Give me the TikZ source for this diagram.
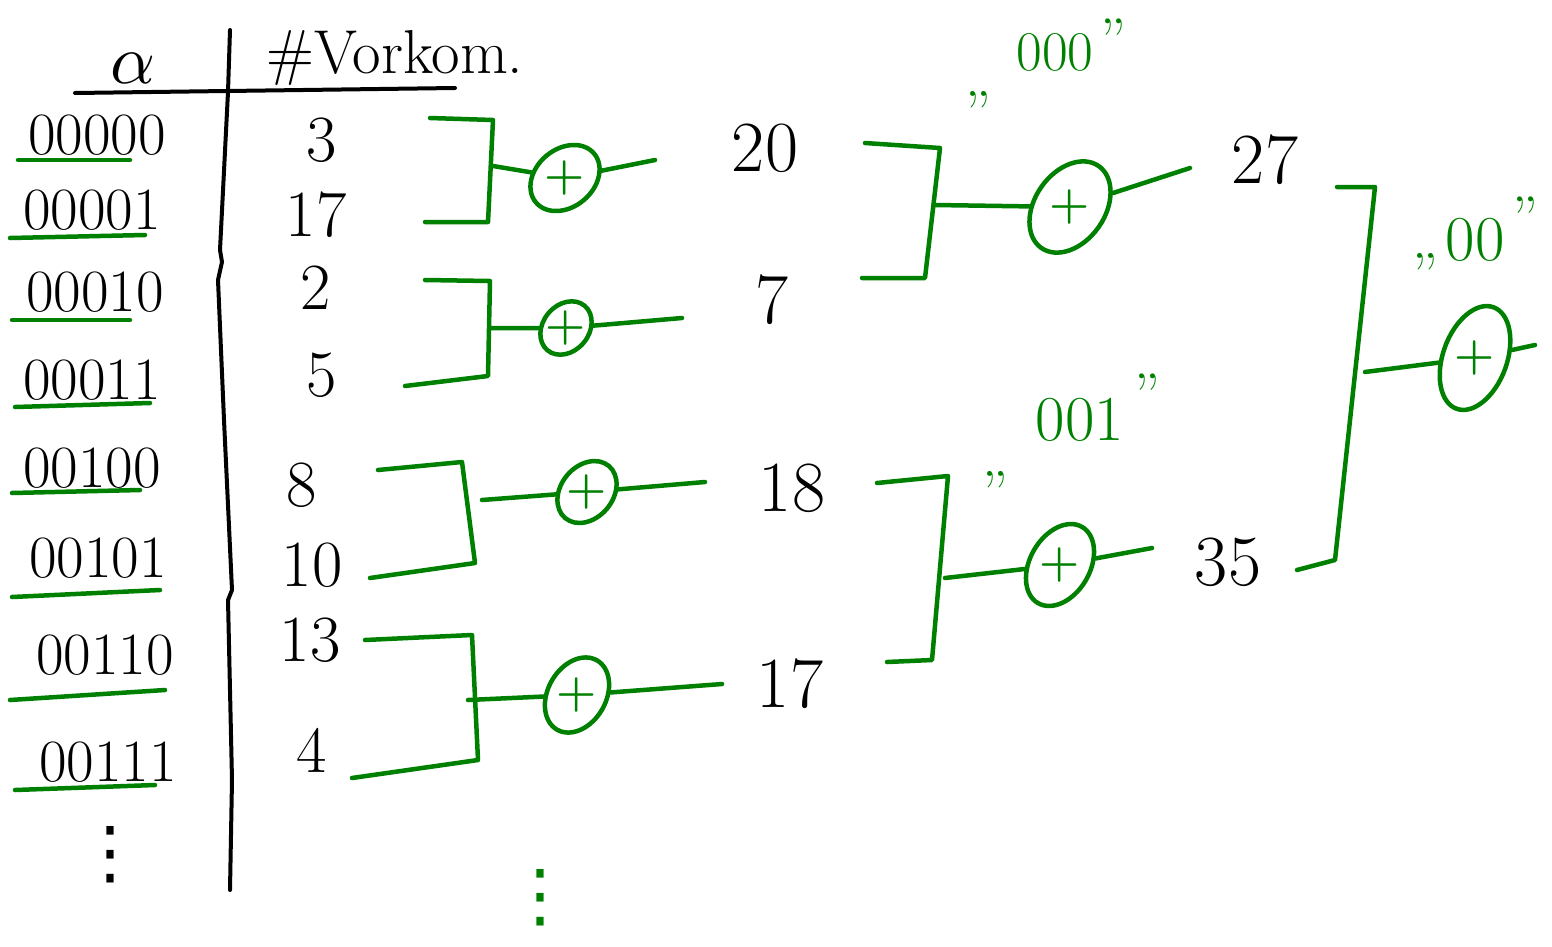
\documentclass[tikz,border=0pt]{standalone}
\usepackage{fontspec}
\newfontfamily\dvfont{DejaVu Sans}
\usetikzlibrary{shapes.geometric}
\definecolor{hwgreen}{RGB}{0,128,0}
\begin{document}
\begin{tikzpicture}[x=1pt,y=-1pt,
 g/.style={draw=hwgreen,line width=4.5pt,line cap=round,line join=round},
 k/.style={draw=black,line width=4pt,line cap=round,line join=round},
 bin/.style={font=\fontsize{60}{64}\selectfont,inner sep=0pt},
 cnt/.style={font=\fontsize{66}{70}\selectfont,inner sep=0pt},
 sum/.style={font=\fontsize{72}{74}\selectfont,inner sep=0pt},
 plus/.style={ellipse,draw=hwgreen,line width=4.5pt,inner sep=0pt},
 pl/.style={text=hwgreen,font=\bfseries\fontsize{46}{46}\selectfont,inner sep=0pt},
 lbl/.style={text=hwgreen,font=\fontsize{56}{60}\selectfont,inner sep=0pt},
 qt/.style={text=hwgreen,font=\fontsize{60}{60}\selectfont,inner sep=0pt},
 dots/.style={font=\dvfont\fontsize{70}{70}\selectfont,inner sep=0pt},
]
\useasboundingbox (0,0) rectangle (1552,946);

% header
\node[inner sep=0pt] (alpha) at (133,68) {\scalebox{7}{$\alpha$}};
\node[font=\fontsize{62}{70}\selectfont,inner sep=0pt] (head) at (395,58) {\#Vorkom.};
\draw[k] (75,93) -- (455,88);
\draw[k] (230,30) -- (228,92) -- (220,250) -- (222,262) -- (218,280) -- (224,420) -- (232,590) -- (228,600) -- (232,780) -- (230,890);

% binary labels
\node[bin] (b1) at (97,135) {00000};
\node[bin] (b2) at (92,210) {00001};
\node[bin] (b3) at (95,292) {00010};
\node[bin] (b4) at (92,380) {00011};
\node[bin] (b5) at (92,468) {00100};
\node[bin] (b6) at (98,558) {00101};
\node[bin] (b7) at (105,655) {00110};
\node[bin] (b8) at (108,762) {00111};
\draw[g] (18,160) -- (130,160);
\draw[g] (10,238) -- (145,235);
\draw[g] (12,320) -- (130,320);
\draw[g] (15,407) -- (150,403);
\draw[g] (12,493) -- (140,490);
\draw[g] (12,597) -- (160,590);
\draw[g] (10,700) -- (165,690);
\draw[g] (15,790) -- (155,785);
\node[dots] (vd) at (110,855) {⋮};

% counts
\node[cnt] (c1) at (322,140) {3};
\node[cnt] (c2) at (316,215) {17};
\node[cnt] (c3) at (316,288) {2};
\node[cnt] (c4) at (322,375) {5};
\node[cnt] (c5) at (302,485) {8};
\node[cnt] (c6) at (312,565) {10};
\node[cnt] (c7) at (310,640) {13};
\node[cnt] (c8) at (312,750) {4};

% level 1
\node[plus,minimum width=76pt,minimum height=58pt,rotate=40] (p1) at (565,178) {};
\node[plus,minimum width=58pt,minimum height=46pt,rotate=50] (p2) at (566,328) {};
\node[plus,minimum width=68pt,minimum height=52pt,rotate=50] (p3) at (587,492) {};
\node[plus,minimum width=80pt,minimum height=58pt,rotate=60] (p4) at (577,695) {};
\node[pl] (p1t) at (p1) {+};
\node[pl] (p2t) at (p2) {+};
\node[pl] (p3t) at (p3) {+};
\node[pl] (p4t) at (p4) {+};

\draw[g] (430,118) -- (493,120) -- (488,222) -- (425,222);
\coordinate (m1) at (493,166);
\draw[g] (m1) -- (p1);
\draw[g] (425,280) -- (490,281) -- (488,376) -- (405,386);
\coordinate (m2) at (490,328);
\draw[g] (m2) -- (p2);
\draw[g] (378,470) -- (462,462) -- (475,563) -- (370,578);
\coordinate (m3) at (482,500);
\draw[g] (m3) -- (p3);
\draw[g] (365,640) -- (472,635) -- (478,760) -- (352,778);
\coordinate (m4) at (468,700);
\draw[g] (m4) -- (p4);

\node[sum] (s1) at (765,148) {20};
\node[sum] (s2) at (772,300) {7};
\node[sum] (s3) at (792,488) {18};
\node[sum] (s4) at (790,684) {17};
\coordinate (o1) at (655,160);
\coordinate (o2) at (682,318);
\coordinate (o3) at (705,482);
\coordinate (o4) at (722,684);
\draw[g] (p1) -- (o1);
\draw[g] (p2) -- (o2);
\draw[g] (p3) -- (o3);
\draw[g] (p4) -- (o4);

% level 2
\node[plus,minimum width=100pt,minimum height=70pt,rotate=55] (q1) at (1070,207) {};
\node[plus,minimum width=88pt,minimum height=60pt,rotate=60] (q2) at (1060,565) {};
\node[pl] (q1t) at (q1) {+};
\node[pl] (q2t) at (q2) {+};
\draw[g] (865,143) -- (940,148) -- (925,278) -- (862,278);
\coordinate (n1) at (935,205);
\draw[g] (n1) -- (q1);
\draw[g] (877,483) -- (948,476) -- (932,660) -- (887,662);
\coordinate (n2) at (945,578);
\draw[g] (n2) -- (q2);
\node[sum] (t1) at (1265,160) {27};
\node[sum] (t2) at (1228,562) {35};
\coordinate (u1) at (1190,168);
\coordinate (u2) at (1152,548);
\draw[g] (q1) -- (u1);
\draw[g] (q2) -- (u2);

% level 3
\node[plus,minimum width=108pt,minimum height=64pt,rotate=70] (r1) at (1475,358) {};
\node[pl] (r1t) at (r1) {+};
\draw[g] (1337,187) -- (1375,187) -- (1335,560) -- (1297,570);
\coordinate (w1) at (1365,372);
\draw[g] (w1) -- (r1);
\coordinate (z1) at (1535,345);
\draw[g] (r1) -- (z1);

% green labels
\node[qt] (l1a) at (978,100) {,,};
\node[lbl] (l1) at (1055,52) {000};
\node[qt] (l1b) at (1113,40) {''};
\node[qt] (l2a) at (995,480) {,,};
\node[lbl,font=\fontsize{64}{70}\selectfont] (l2) at (1080,420) {001};
\node[qt] (l2b) at (1147,395) {''};
\node[qt] (l3a) at (1425,262) {,,};
\node[lbl,font=\fontsize{64}{70}\selectfont] (l3) at (1475,240) {00};
\node[qt] (l3b) at (1525,218) {''};
\node[dots,text=hwgreen] (gd) at (540,898) {⋮};
\end{tikzpicture}
\end{document}
